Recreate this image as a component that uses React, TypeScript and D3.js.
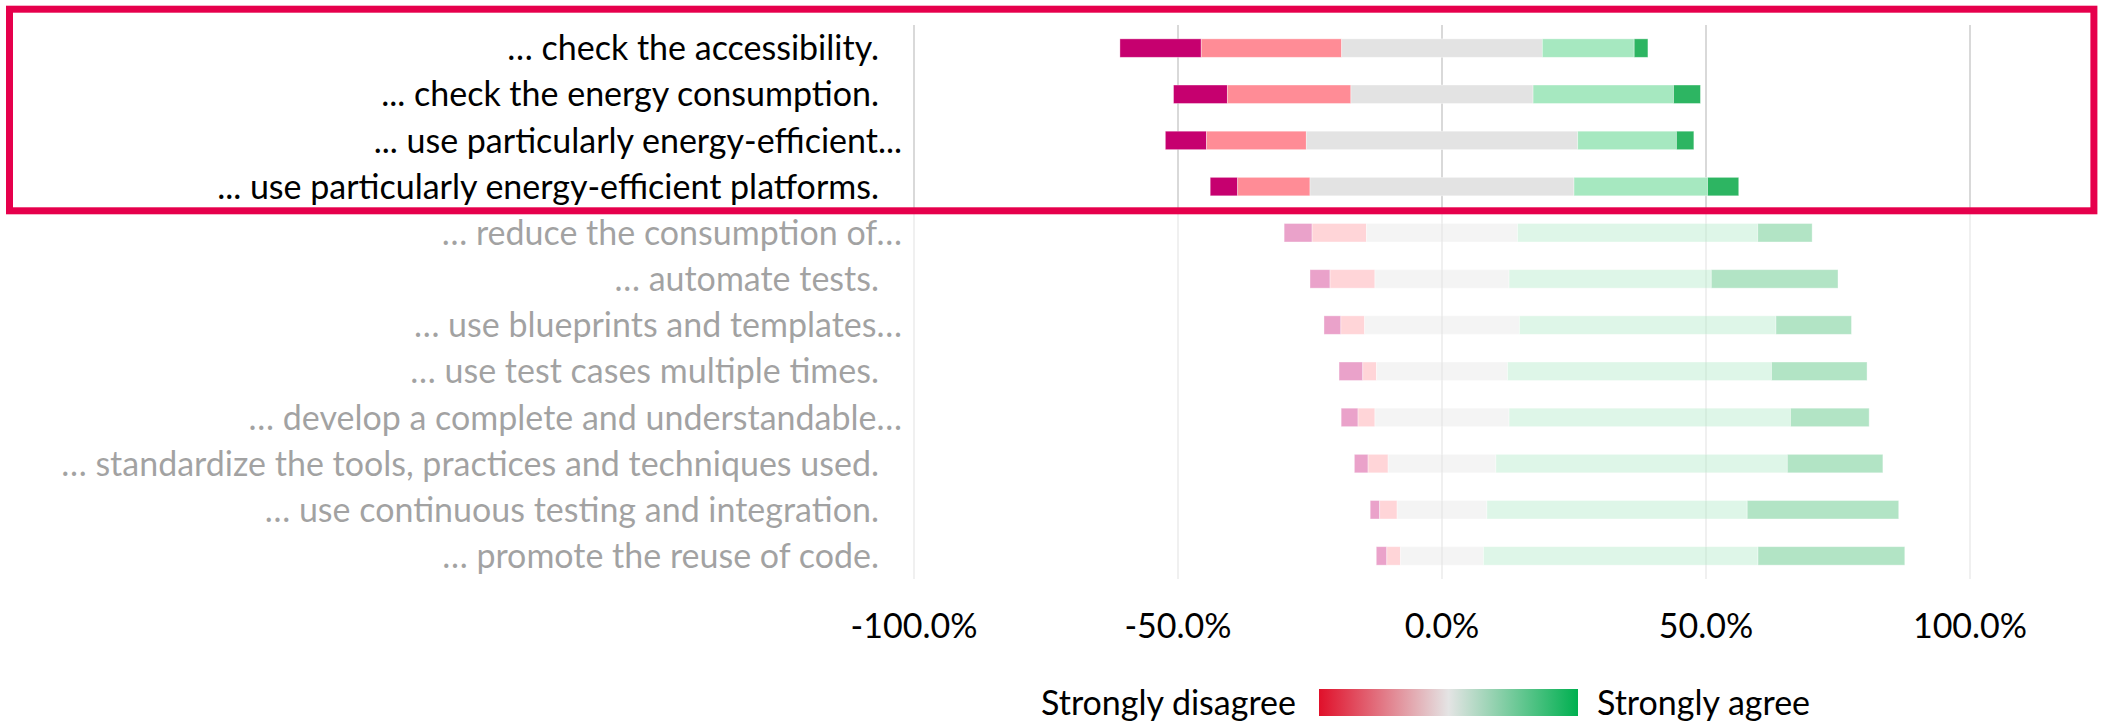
import React from "react";
import * as d3 from "d3";

// ---- data (percent of respondents) ----
const categories = [
  "… check the accessibility.",
  "... check the energy consumption.",
  "... use particularly energy-efficient...",
  "... use particularly energy-efficient platforms.",
  "… reduce the consumption of…",
  "… automate tests.",
  "… use blueprints and templates…",
  "… use test cases multiple times.",
  "… develop a complete and understandable…",
  "… standardize the tools, practices and techniques used.",
  "… use continuous testing and integration.",
  "… promote the reuse of code.",
];
const highlightedCount = 4;
const stronglyDisagree = [15.4, 10.2, 7.8, 5.2, 5.3, 3.8, 3.2, 4.5, 3.2, 2.6, 1.8, 2.0];
const disagree = [26.6, 23.4, 18.9, 13.7, 10.3, 8.5, 4.5, 2.6, 3.2, 3.8, 3.3, 2.6];
const neutral = [38.0, 34.5, 51.4, 50.0, 28.6, 25.4, 29.3, 24.8, 25.4, 20.4, 17.0, 15.7];
const agree = [17.4, 26.6, 18.7, 25.3, 45.5, 38.3, 48.6, 50.0, 53.3, 55.2, 49.3, 52.0];
const stronglyAgree = [2.6, 5.1, 3.3, 5.9, 10.3, 24.0, 14.3, 18.1, 14.9, 18.1, 28.7, 27.8];
const tickValues = [-100, -50, 0, 50, 100];
const legendLabels = ["Strongly disagree", "Strongly agree"];

const seriesColors = ["#C6006F", "#FF8C96", "#E3E3E3", "#A6E8C0", "#2DB562"];

const FONT = "Lato, 'Open Sans', sans-serif";
const FS = 34;

export default function App() {
  const W = 2105;
  const H = 723;
  const x = d3.scaleLinear().domain([-100, 100]).range([914, 1970]);
  const y = d3
    .scaleBand<string>()
    .domain(categories)
    .range([25, 579])
    .paddingInner(0.6)
    .paddingOuter(0.3);

  const series = [stronglyDisagree, disagree, neutral, agree, stronglyAgree];

  const rows = categories.map((c, i) => {
    const start = -(stronglyDisagree[i] + disagree[i] + neutral[i] / 2);
    let acc = start;
    const segs = series.map((s, k) => {
      const x0 = acc;
      acc += s[i];
      return { k, x0, x1: acc };
    });
    return { c, i, segs };
  });

  const boxBottom = 210.8;
  const gridTop = 25;
  const gridBottom = 579;
  const baseOff = FS * 0.36;

  return (
    <svg
      width={W}
      height={H}
      style={{ position: "absolute", left: 0, top: 0, background: "#fff" }}
      fontFamily={FONT}
    >
      <defs>
        <linearGradient id="lg" x1="0" x2="1" y1="0" y2="0">
          <stop offset="0%" stopColor="#E0102A" />
          <stop offset="50%" stopColor="#E4E4E4" />
          <stop offset="100%" stopColor="#00B050" />
        </linearGradient>
      </defs>
      {/* gridlines */}
      {tickValues.map((t) => (
        <g key={"g" + t}>
          <line x1={x(t)} x2={x(t)} y1={gridTop} y2={boxBottom} stroke="#D9D9D9" strokeWidth={2} />
          <line
            x1={x(t)}
            x2={x(t)}
            y1={boxBottom}
            y2={gridBottom}
            stroke="#D9D9D9"
            strokeWidth={2}
            strokeOpacity={0.4}
          />
        </g>
      ))}
      {/* rows */}
      {rows.map((r) => {
        const yc = (y(r.c) as number) + y.bandwidth() / 2;
        const faded = r.i >= highlightedCount;
        const endsEllipsis = /(…|\.\.\.)$/.test(r.c);
        return (
          <g key={r.c} opacity={faded ? 0.36 : 1}>
            {r.segs.map((s) => (
              <rect
                key={s.k}
                x={x(s.x0)}
                y={y(r.c)}
                width={x(s.x1) - x(s.x0)}
                height={y.bandwidth()}
                fill={seriesColors[s.k]}
                stroke="#ffffff"
                strokeOpacity={0.45}
                strokeWidth={0.8}
              />
            ))}
            <text
              x={endsEllipsis ? 902 : 879}
              y={yc + baseOff}
              textAnchor="end"
              fontSize={FS}
              fill="#000"
            >
              {r.c}
            </text>
          </g>
        );
      })}
      {/* axis labels */}
      {tickValues.map((t) => (
        <text key={"t" + t} x={x(t)} y={638} textAnchor="middle" fontSize={FS} fill="#000">
          {t.toFixed(1) + "%"}
        </text>
      ))}
      {/* legend */}
      <text x={1296} y={715} textAnchor="end" fontSize={FS} fill="#000">
        {legendLabels[0]}
      </text>
      <rect x={1319} y={689} width={259} height={27} fill="url(#lg)" />
      <text x={1597} y={715} textAnchor="start" fontSize={FS} fill="#000">
        {legendLabels[1]}
      </text>
      {/* highlight box */}
      <rect
        x={9.5}
        y={9.2}
        width={2084.4}
        height={201.6}
        fill="none"
        stroke="#E6004C"
        strokeWidth={7}
      />
    </svg>
  );
}
